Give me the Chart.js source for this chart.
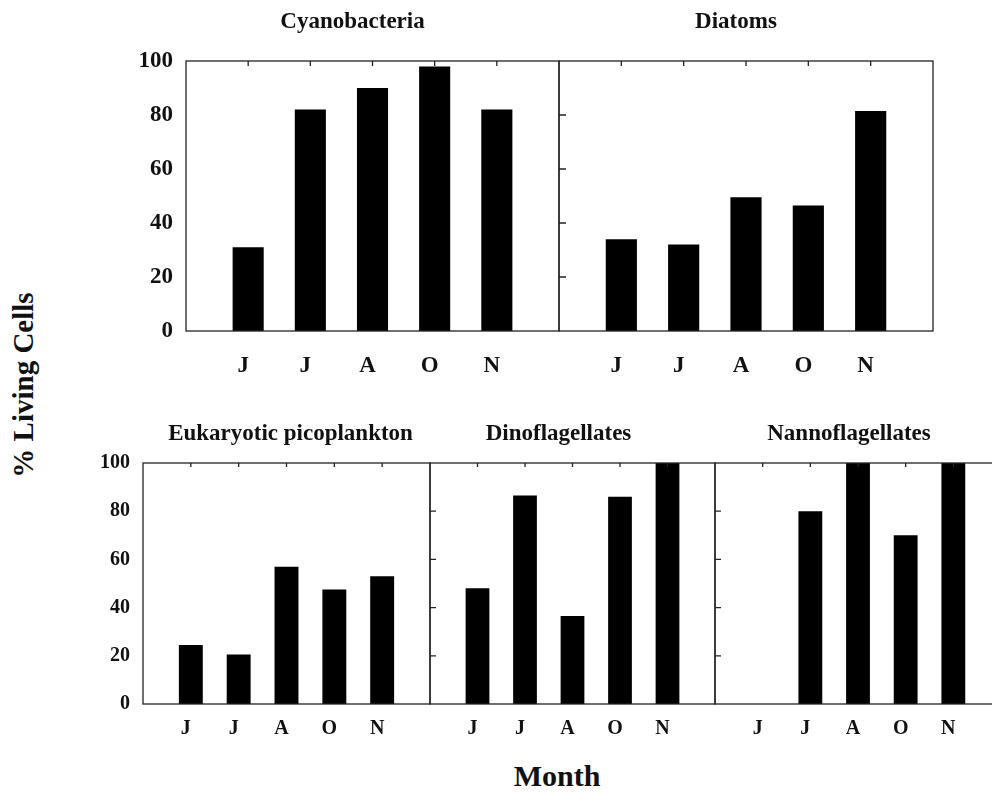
<!DOCTYPE html>
<html>
<head>
<meta charset="utf-8">
<script src="https://cdn.jsdelivr.net/npm/chart.js@4.4.1/dist/chart.umd.min.js"></script>
<style>
  body { margin: 0; background: #fff; width: 992px; height: 792px; overflow: hidden; position: relative; }
  canvas { position: absolute; }
  .lbl { position: absolute; font-family: "Liberation Serif", "Times New Roman", serif; font-weight: bold; color: #111; white-space: nowrap; transform: translate(-50%, -50%); }
  #ylab { left: 23px; top: 385px; font-size: 29px; transform: translate(-50%, -50%) rotate(-90deg); }
  #xlab { left: 557px; top: 776px; font-size: 30px; }
</style>
</head>
<body>
<div class="lbl" id="ylab">% Living Cells</div>
<div class="lbl" id="xlab">Month</div>
<script>
const MONTHS = ["J", "J", "A", "O", "N"]
const Y_TICKS = [0, 20, 40, 60, 80, 100]

const CYANOBACTERIA = [31, 82, 90, 98, 82]
const DIATOMS = [34, 32, 49.5, 46.5, 81.5]
const EUKARYOTIC = [24.5, 20.5, 57, 47.5, 53]
const DINOFLAGELLATES = [48, 86.5, 36.5, 86, 100]
const NANNOFLAGELLATES = [0, 80, 100, 70, 100]

const FONT = "Liberation Serif"
const PAD_L = 90, PAD_T = 60, PAD_R = 10, AXIS_H = 50

// plot boxes are [left, top, right, bottom] in page pixels
const PANELS = [
  { title: "Cyanobacteria", data: CYANOBACTERIA, box: [186, 61, 559, 331], first: true, size: 23, tick: 23, xPad: 21, titleDx: -20, titleGap: 33, topTick: 5, sideTick: 7 },
  { title: "Diatoms", data: DIATOMS, box: [559, 61, 933, 331], first: false, size: 23, tick: 23, xPad: 21, titleDx: -10, titleGap: 33, topTick: 5, sideTick: 7 },
  { title: "Eukaryotic picoplankton", data: EUKARYOTIC, box: [143, 463, 430, 704], first: true, size: 23, tick: 20, xPad: 13, titleDx: 4, titleGap: 23, topTick: 4, sideTick: 6 },
  { title: "Dinoflagellates", data: DINOFLAGELLATES, box: [430, 463, 715, 704], first: false, size: 23, tick: 20, xPad: 13, titleDx: -14, titleGap: 23, topTick: 4, sideTick: 6 },
  { title: "Nannoflagellates", data: NANNOFLAGELLATES, box: [715, 463, 1001, 704], first: false, size: 23, tick: 20, xPad: 13, titleDx: -9, titleGap: 23, topTick: 4, sideTick: 6 },
]

const frame = {
  id: "frame",
  afterDatasetsDraw(chart, args, opts) {
    const { ctx, chartArea: a, scales: { x, y } } = chart
    ctx.save()
    ctx.strokeStyle = "#222"
    ctx.lineWidth = 1.3
    ctx.strokeRect(a.left, a.top, a.right - a.left, a.bottom - a.top)
    ctx.beginPath()
    chart.data.labels.forEach((l, i) => {
      if (!l) return
      const px = x.getPixelForValue(i)
      ctx.moveTo(px, a.top)
      ctx.lineTo(px, a.top + opts.topTick)
    })
    if (opts.sideTicks) {
      Y_TICKS.slice(1, -1).forEach(v => {
        const py = y.getPixelForValue(v)
        ctx.moveTo(a.left, py)
        ctx.lineTo(a.left + opts.sideTick, py)
      })
    }
    ctx.stroke()
    ctx.fillStyle = "#111"
    ctx.font = "bold " + opts.size + "px '" + FONT + "'"
    ctx.textAlign = "center"
    ctx.textBaseline = "alphabetic"
    ctx.fillText(opts.title, (a.left + a.right) / 2 + opts.titleDx, a.top - opts.titleGap)
    ctx.restore()
  }
}

PANELS.forEach(p => {
  const [l, t, r, b] = p.box
  const canvas = document.createElement("canvas")
  canvas.width = r - l + PAD_L + PAD_R
  canvas.height = b - t + PAD_T + AXIS_H
  canvas.style.left = (l - PAD_L) + "px"
  canvas.style.top = (t - PAD_T) + "px"
  document.body.appendChild(canvas)

  const tickFont = { family: FONT, size: p.tick, weight: "bold" }

  new Chart(canvas, {
    type: "bar",
    data: {
      labels: ["", ...MONTHS, ""],
      datasets: [{
        data: [null, ...p.data, null],
        backgroundColor: "#000",
        categoryPercentage: 1,
        barPercentage: 0.5,
      }]
    },
    plugins: [frame],
    options: {
      responsive: false,
      animation: false,
      events: [],
      layout: { padding: { left: 0, top: PAD_T, right: PAD_R, bottom: 0 } },
      plugins: {
        legend: { display: false },
        tooltip: { enabled: false },
        frame: { title: p.title, size: p.size, titleDx: p.titleDx, titleGap: p.titleGap, topTick: p.topTick, sideTick: p.sideTick, sideTicks: !p.first },
      },
      scales: {
        x: {
          offset: false,
          // the tick length (not drawn) spaces the labels below the axis
          grid: { display: false, drawTicks: true, tickLength: p.xPad },
          border: { display: false },
          ticks: { font: tickFont, color: "#111", padding: 0, labelOffset: -5, autoSkip: false, maxRotation: 0 },
          afterFit: s => { s.height = AXIS_H },
        },
        y: {
          min: 0,
          max: 100,
          grid: { display: false, drawTicks: false },
          border: { display: false },
          ticks: { display: p.first, stepSize: 20, font: tickFont, color: "#111", padding: 13 },
          afterFit: s => { s.width = PAD_L },
        },
      },
    },
  })
})
</script>
</body>
</html>
